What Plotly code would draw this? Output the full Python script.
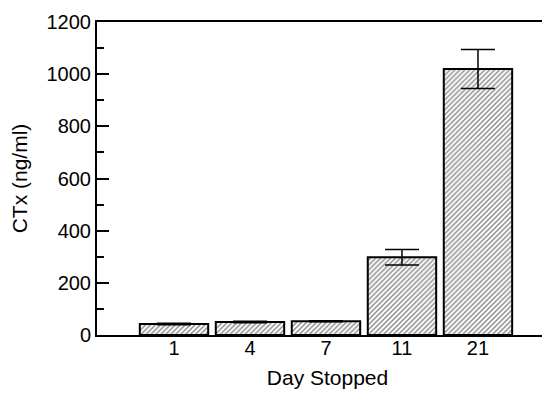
import plotly.graph_objects as go

days = ["1", "4", "7", "11", "21"]
ctx = [42, 50, 53, 298, 1020]
err_plus = [3, 3, 2, 30, 75]
err_minus = [3, 3, 2, 30, 75]
y_ticks = [0, 200, 400, 600, 800, 1000, 1200]

fig = go.Figure()
fig.add_trace(go.Bar(
    x=days, y=ctx,
    width=0.9,
    marker=dict(color="white",
                line=dict(color="black", width=2),
                pattern=dict(shape="/", fgcolor="#111111", bgcolor="white", size=3.5, solidity=0.4)),
    error_y=dict(type="data", symmetric=False, array=err_plus, arrayminus=err_minus,
                 color="black", thickness=1.5, width=17),
))

font = "Liberation Sans, Arial, sans-serif"
fig.update_layout(
    width=550, height=393,
    margin=dict(l=89, r=0, t=14, b=66),
    paper_bgcolor="white", plot_bgcolor="white",
    showlegend=False,
    font=dict(family=font, size=20, color="black"),
)
fig.update_xaxes(
    type="category", range=[-1.013, 5.053],
    showline=True, linecolor="black", linewidth=2, mirror=True,
    ticks="", showgrid=False,
    tickfont=dict(size=20), ticklabelstandoff=-6,
    title=dict(text="Day Stopped", font=dict(size=21), standoff=12),
)
fig.update_yaxes(
    range=[0, 1200], tickvals=y_ticks,
    showline=True, linecolor="black", linewidth=2,
    ticks="inside", ticklen=12, tickwidth=2, tickcolor="black",
    minor=dict(ticks="inside", ticklen=7, tickwidth=2, tickcolor="black", dtick=100),
    showgrid=False, zeroline=False,
    tickfont=dict(size=20),
    title=dict(text="CTx (ng/ml)", font=dict(size=21), standoff=14),
)
fig.write_html("out.html")
